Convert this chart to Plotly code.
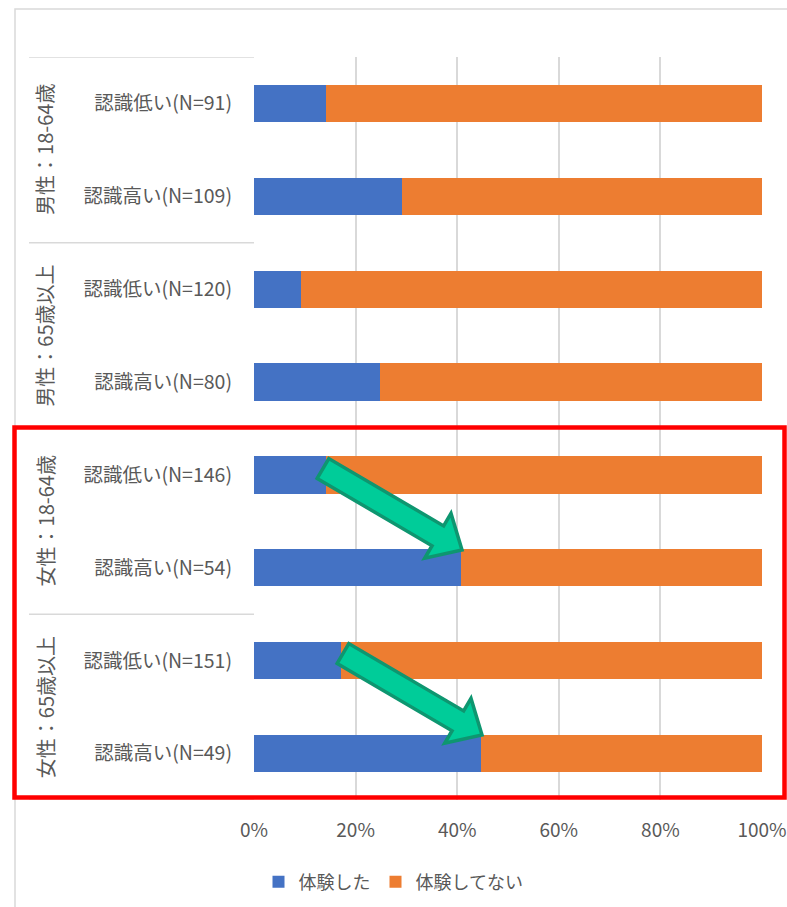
import math
import plotly.graph_objects as go

# ---------------- data ----------------
groups = ["男性：18-64歳", "男性：65歳以上", "女性：18-64歳", "女性：65歳以上"]
sub_labels = [
    "認識低い(N=91)", "認識高い(N=109)",
    "認識低い(N=120)", "認識高い(N=80)",
    "認識低い(N=146)", "認識高い(N=54)",
    "認識低い(N=151)", "認識高い(N=49)",
]
experienced = [0.141, 0.292, 0.092, 0.249, 0.142, 0.407, 0.172, 0.447]
not_experienced = [1 - v for v in experienced]
series_names = ["体験した", "体験してない"]
x_ticks = [0, 0.2, 0.4, 0.6, 0.8, 1.0]
x_ticktext = ["0%", "20%", "40%", "60%", "80%", "100%"]

# ---------------- layout geometry ----------------
FW, FH = 787, 907
ML, MR, MT, MB = 254, 25, 57, 107
PW = FW - ML - MR
PH = FH - MT - MB

def px(x):
    return (x - ML) / PW

def py(y):
    return (FH - MB - y) / PH

FONT = "Noto Sans CJK JP"
GREY = "#595959"
BLUE = "#4472C4"
ORANGE = "#ED7D31"

pos = list(range(len(sub_labels)))

fig = go.Figure()
fig.add_trace(go.Bar(
    y=pos, x=experienced, orientation="h", name=series_names[0],
    marker=dict(color=BLUE, line=dict(width=0)),
))
fig.add_trace(go.Bar(
    y=pos, x=not_experienced, orientation="h", name=series_names[1],
    marker=dict(color=ORANGE, line=dict(width=0)),
))

shapes = []
annotations = []

# outer chart border
shapes.append(dict(type="rect", xref="paper", yref="paper",
                   x0=px(15), x1=px(800), y0=py(920), y1=py(9),
                   line=dict(color="#D9D9D9", width=1.5), layer="below"))

# group divider lines on the left label area
for k in range(len(groups) + 1):
    yv = -0.5 + 2 * k
    shapes.append(dict(type="line", xref="paper", yref="y",
                       x0=px(29), x1=0, y0=yv, y1=yv,
                       line=dict(color="#D9D9D9", width=1.5)))

# group labels (rotated)
for i, g in enumerate(groups):
    annotations.append(dict(text=g, xref="paper", yref="y",
                            x=px(45), y=2 * i + 0.5, showarrow=False,
                            textangle=-90, xanchor="center", yanchor="middle",
                            font=dict(family=FONT, size=20, color=GREY)))

# red highlight rectangle
shapes.append(dict(type="rect", xref="paper", yref="paper",
                   x0=px(14.5), x1=px(784.5), y0=py(797.5), y1=py(427.5),
                   line=dict(color="#FF0000", width=4.5)))

# green block arrows
def arrow_path(tail, tip, shaft_hw=11.5, head_hw=26, head_len=28):
    dx, dy = tip[0] - tail[0], tip[1] - tail[1]
    L = math.hypot(dx, dy)
    ux, uy = dx / L, dy / L
    nx, ny = -uy, ux
    bx, by = tip[0] - ux * head_len, tip[1] - uy * head_len
    pts = [
        (tail[0] + nx * shaft_hw, tail[1] + ny * shaft_hw),
        (bx + nx * shaft_hw, by + ny * shaft_hw),
        (bx + nx * head_hw, by + ny * head_hw),
        tip,
        (bx - nx * head_hw, by - ny * head_hw),
        (bx - nx * shaft_hw, by - ny * shaft_hw),
        (tail[0] - nx * shaft_hw, tail[1] - ny * shaft_hw),
    ]
    return "M " + " L ".join(f"{px(x):.5f},{py(y):.5f}" for x, y in pts) + " Z"

for tail, tip in [((323, 468.5), (462, 550)), ((343, 653.5), (482, 735))]:
    shapes.append(dict(type="path", xref="paper", yref="paper",
                       path=arrow_path(tail, tip),
                       fillcolor="#00CC99", line=dict(color="#0E9670", width=3.5)))

fig.update_layout(
    width=FW, height=FH,
    margin=dict(l=ML, r=MR, t=MT, b=MB, autoexpand=False),
    paper_bgcolor="white", plot_bgcolor="white",
    barmode="stack", bargap=0.6,
    font=dict(family=FONT, size=18, color=GREY),
    xaxis=dict(range=[0, 1], tickvals=x_ticks, ticktext=x_ticktext,
               showgrid=True, gridcolor="#D9D9D9", gridwidth=1.5,
               zeroline=False, showline=False, ticks="", automargin=False,
               ticklabelstandoff=17,
               tickfont=dict(family=FONT, size=19, color=GREY)),
    yaxis=dict(range=[7.5, -0.5], tickvals=pos, ticktext=sub_labels,
               showgrid=False, zeroline=False, showline=False, ticks="",
               automargin=False, ticklabelstandoff=21,
               tickfont=dict(family=FONT, size=19.5, color=GREY)),
    legend=dict(orientation="h", xref="container", yref="container",
                x=0.5, xanchor="center", y=1 - 882 / FH, yanchor="middle",
                font=dict(family=FONT, size=18, color=GREY),
                itemwidth=30, traceorder="normal"),
    shapes=shapes,
    annotations=annotations,
)

fig.write_html("out.html")
